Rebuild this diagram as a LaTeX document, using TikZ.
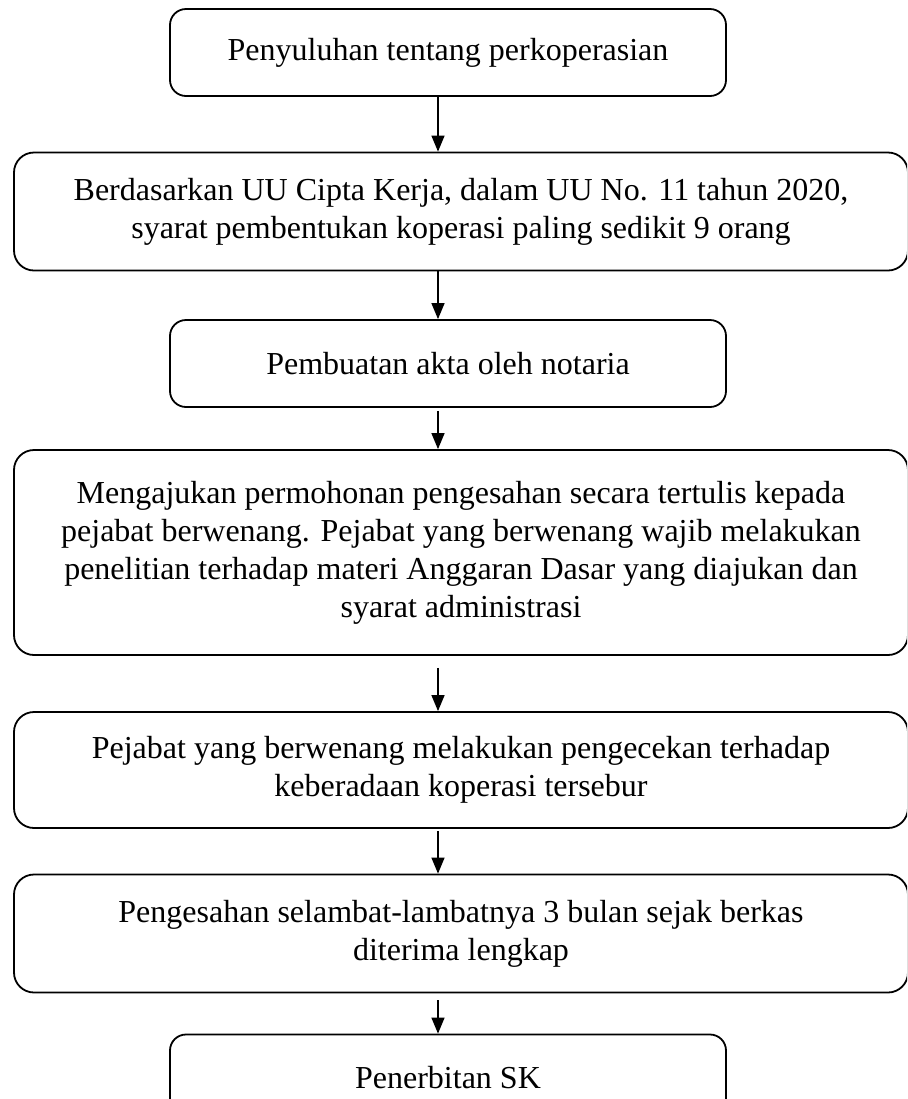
\documentclass[tikz,border=0pt]{standalone}
\usepackage{fontspec}
\setmainfont{Liberation Serif}
\usetikzlibrary{arrows.meta}

\begin{document}
\begin{tikzpicture}[x=0.5pt,y=-0.5pt,
  flowbox/.style={draw, line width=0.9pt, rounded corners=10pt, align=center,
    inner sep=0pt, font=\fontsize{16}{19}\selectfont},
  smallbox/.style={flowbox, rounded corners=8pt, minimum width=278pt, minimum height=43.5pt},
  widebox/.style={flowbox, minimum width=447pt},
  flowarrow/.style={-{Triangle[length=8pt,width=6.5pt]}, line width=0.7pt}]
\useasboundingbox (0,0) rectangle (907,1099);
\clip (0,0) rectangle (907,1099);
\coordinate (spine) at (438,0);

\node[smallbox] (penyuluhan) at (448,52.5) {Penyuluhan tentang perkoperasian};
\node[widebox, minimum height=59pt] (syarat) at (461,211.5)
  {Berdasarkan UU Cipta Kerja, dalam UU No. 11 tahun 2020,\\
   syarat pembentukan koperasi paling sedikit 9 orang};
\node[smallbox] (akta) at (448,363.5) {Pembuatan akta oleh notaria};
\node[widebox, minimum height=102.5pt] (permohonan) at (461,552.5)
  {Mengajukan permohonan pengesahan secara tertulis kepada\\
   pejabat berwenang. Pejabat yang berwenang wajib melakukan\\
   penelitian terhadap materi Anggaran Dasar yang diajukan dan\\
   syarat administrasi};
\node[widebox, minimum height=58pt] (pengecekan) at (461,770)
  {Pejabat yang berwenang melakukan pengecekan terhadap\\
   keberadaan koperasi tersebur};
\node[widebox, minimum height=59pt] (pengesahan) at (461,933.5)
  {Pengesahan selambat-lambatnya 3 bulan sejak berkas\\
   diterima lengkap};
\node[smallbox] (sk) at (448,1078) {Penerbitan SK};

\draw[flowarrow] (penyuluhan.south -| spine) -- (syarat.north -| spine);
\draw[flowarrow] (syarat.south -| spine) -- (akta.north -| spine);
\draw[flowarrow] ([yshift=-1.5pt]akta.south -| spine) -- (permohonan.north -| spine);
\draw[flowarrow] ([yshift=-6pt]permohonan.south -| spine) -- (pengecekan.north -| spine);
\draw[flowarrow] ([yshift=-1pt]pengecekan.south -| spine) -- (pengesahan.north -| spine);
\draw[flowarrow] ([yshift=-3.5pt]pengesahan.south -| spine) -- (sk.north -| spine);
\end{tikzpicture}
\end{document}
